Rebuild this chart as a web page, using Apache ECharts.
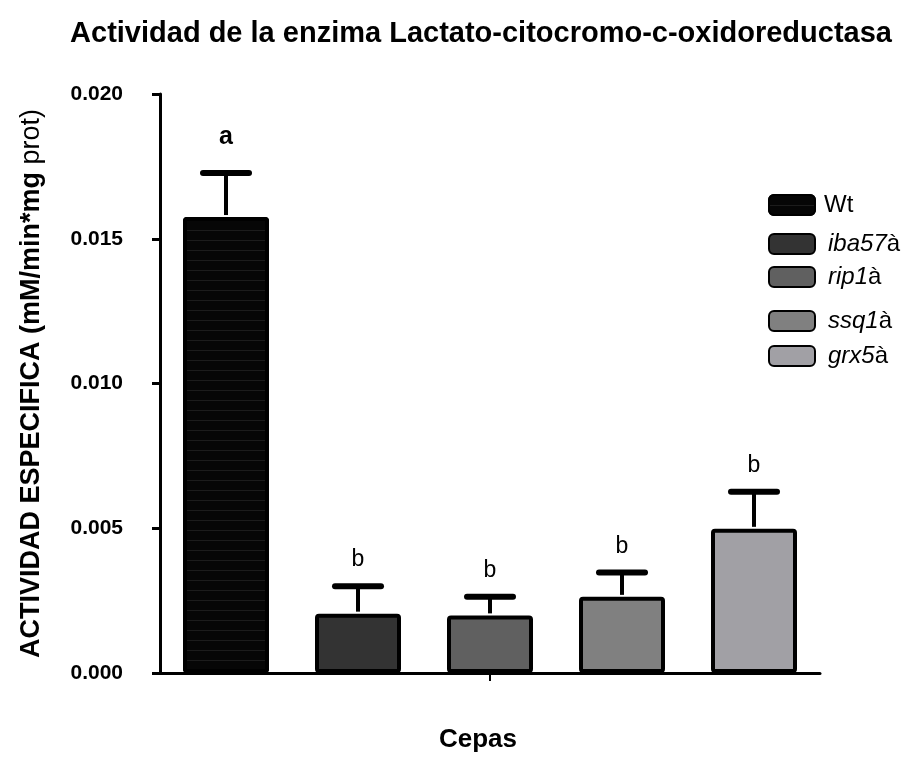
<!DOCTYPE html>
<html>
<head>
<meta charset="utf-8">
<script src="https://cdn.jsdelivr.net/npm/echarts@6/dist/echarts.min.js"></script>
<style>html,body{margin:0;padding:0;background:#fff}#c{width:915px;height:758px}</style>
</head>
<body>
<div id="c"></div>
<script>
const categories = ['Wt', 'iba57', 'rip1', 'ssq1', 'grx5'];
const legendNames = ['Wt', 'iba57à', 'rip1à', 'ssq1à', 'grx5à'];
const means = [0.01575, 0.00205, 0.00199, 0.00263, 0.00498];
const errors = [0.00152, 0.00095, 0.00064, 0.00084, 0.00128];
const letters = ['a', 'b', 'b', 'b', 'b'];
const yTicks = [0, 0.005, 0.010, 0.015, 0.020];
const colors = ['#060606', '#333333', '#606060', '#808080', '#a1a0a5'];
const legendTops = [188, 227, 260, 304, 339];

const FONT = 'Liberation Sans, Arial, sans-serif';
const chart = echarts.init(document.getElementById('c'), null, { width: 915, height: 758 });

const barSeries = categories.map((c, i) => ({
  type: 'bar',
  name: legendNames[i],
  data: categories.map((_, j) => (j === i ? means[i] : '-')),
  barWidth: 86,
  barGap: '-100%',
  itemStyle: {
    color: colors[i],
    borderColor: '#000',
    borderWidth: 4,
    borderRadius: 2,
    decal: i === 0 ? {
      symbol: 'rect', color: 'rgba(70,70,70,0.35)', symbolSize: 1,
      dashArrayX: [[1, 0]], dashArrayY: [1, 9], rotation: 0
    } : undefined
  },
  emphasis: { disabled: true },
  z: 2
}));

const errSeries = {
  type: 'custom',
  name: 'err',
  data: categories.map((c, i) => [i, means[i], means[i] + errors[i], letters[i]]),
  z: 3,
  renderItem: function (params, api) {
    const i = api.value(0);
    const base = api.coord([i, api.value(1)]);
    const top = api.coord([i, api.value(2)]);
    const half = 23;
    const bold = letters[i] === 'a';
    return {
      type: 'group',
      children: [
        { type: 'line', shape: { x1: base[0], y1: base[1] - 2, x2: top[0], y2: top[1] },
          style: { stroke: '#000', lineWidth: 4 } },
        { type: 'line', shape: { x1: top[0] - half, y1: top[1], x2: top[0] + half, y2: top[1] },
          style: { stroke: '#000', lineWidth: 6, lineCap: 'round' } },
        { type: 'text', x: top[0], y: top[1] - (bold ? 36 : 26),
          style: { text: letters[i], fill: '#000', font: (bold ? 'bold 25px ' : '23px ') + FONT,
            align: 'center', verticalAlign: 'middle' } }
      ]
    };
  }
};

const legends = legendNames.map((n, i) => ({
  data: [n],
  orient: 'vertical',
  left: 763,
  top: legendTops[i],
  itemWidth: 46,
  itemHeight: 20,
  itemGap: 12,
  selectedMode: false,
  textStyle: {
    fontFamily: FONT, fontSize: 24, color: '#000',
    rich: {
      it: { fontFamily: FONT, fontSize: 24, fontStyle: 'italic', color: '#000', padding: [0, 0, 0, 8] },
      w: { fontFamily: FONT, fontSize: 24, color: '#000', padding: [0, 0, 0, 4] },
      n: { fontFamily: FONT, fontSize: 24, color: '#000' }
    }
  },
  formatter: function (name) {
    if (name === 'Wt') return '{w|Wt}';
    return '{it|' + name.slice(0, -1) + '}{n|à}';
  }
}));

chart.setOption({
  backgroundColor: '#fff',
  animation: false,
  title: {
    text: 'Actividad de la enzima Lactato-citocromo-c-oxidoreductasa',
    left: 476, top: 14, textAlign: 'center',
    textStyle: { fontFamily: FONT, fontSize: 29, fontWeight: 'bold', color: '#000' }
  },
  legend: legends,
  grid: { left: 160, width: 660, top: 94, height: 594, containLabel: false },
  xAxis: {
    type: 'category',
    data: categories,
    name: 'Cepas',
    nameLocation: 'middle',
    nameGap: 54,
    nameTextStyle: { fontFamily: FONT, fontSize: 26, fontWeight: 'bold', color: '#000',
      padding: [0, 24, 0, 0] },
    axisLine: { lineStyle: { color: '#000', width: 3 } },
    axisTick: { show: true, alignWithLabel: true, length: 8, lineStyle: { color: '#000', width: 2 },
      interval: function (idx) { return idx === 2; } },
    axisLabel: { show: false },
    splitLine: { show: false }
  },
  yAxis: {
    type: 'value',
    min: yTicks[0],
    max: yTicks[yTicks.length - 1],
    interval: yTicks[1] - yTicks[0],
    name: '{b|ACTIVIDAD ESPECIFICA (mM/min*mg} {n|prot)}',
    nameLocation: 'middle',
    nameGap: 115,
    nameTextStyle: {
      fontFamily: FONT, fontSize: 27, fontWeight: 'bold', color: '#000',
      rich: {
        b: { fontFamily: FONT, fontSize: 27, fontWeight: 'bold', color: '#000' },
        n: { fontFamily: FONT, fontSize: 27, fontWeight: 'normal', color: '#000' }
      }
    },
    axisLine: { show: true, lineStyle: { color: '#000', width: 3 } },
    axisTick: { show: true, length: 8, lineStyle: { color: '#000', width: 3 } },
    axisLabel: { margin: 37, fontFamily: FONT, fontSize: 21, fontWeight: 'bold', color: '#000',
      formatter: function (v) { return v.toFixed(3); } },
    splitLine: { show: false }
  },
  series: barSeries.concat([errSeries])
});
</script>
</body>
</html>
